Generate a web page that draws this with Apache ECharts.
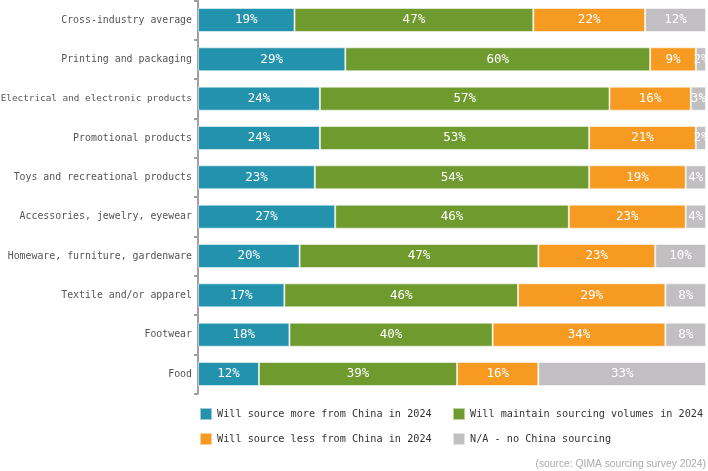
<!DOCTYPE html>
<html>
<head>
<meta charset="utf-8">
<script src="https://cdn.jsdelivr.net/npm/echarts@6/dist/echarts.min.js"></script>
<style>
  html, body { margin: 0; padding: 0; background: #fff; }
  #chart { width: 708px; height: 471px; }
</style>
</head>
<body>
<div id="chart"></div>
<script>
var categories = [
  'Cross-industry average',
  'Printing and packaging',
  'Electrical and electronic products',
  'Promotional products',
  'Toys and recreational products',
  'Accessories, jewelry, eyewear',
  'Homeware, furniture, gardenware',
  'Textile and/or apparel',
  'Footwear',
  'Food'
];
var seriesNames = [
  'Will source more from China in 2024',
  'Will maintain sourcing volumes in 2024',
  'Will source less from China in 2024',
  'N/A - no China sourcing'
];
var moreValues     = [19, 29, 24, 24, 23, 27, 20, 17, 18, 12];
var maintainValues = [47, 60, 57, 53, 54, 46, 47, 46, 40, 39];
var lessValues     = [22,  9, 16, 21, 19, 23, 23, 29, 34, 16];
var naValues       = [12,  2,  3,  2,  4,  4, 10,  8,  8, 33];

var colors = ['#2392ad', '#6e9a2e', '#f79a21', '#c1bfc1'];
var mono = 'DejaVu Sans Mono';

var chart = echarts.init(document.getElementById('chart'));

function makeSeries(idx, values) {
  return {
    name: seriesNames[idx],
    type: 'bar',
    stack: 'total',
    barWidth: 24,
    data: values,
    itemStyle: {
      color: colors[idx],
      borderColor: 'rgba(255,255,255,0.55)',
      borderWidth: 1
    },
    label: {
      show: true,
      position: 'inside',
      color: '#fff',
      fontFamily: mono,
      fontSize: 12.5,
      formatter: '{c}%'
    },
    emphasis: { disabled: true }
  };
}

function legendAt(x, names) {
  return {
    left: x, top: 407, orient: 'vertical', padding: 0,
    data: names,
    icon: 'rect', itemWidth: 12, itemHeight: 12, itemGap: 11,
    textStyle: { color: '#333', fontFamily: mono, fontSize: 10.2 },
    selectedMode: false
  };
}

// long labels are squeezed to fit left of the axis
var yData = categories.map(function (c) {
  return c.length > 32 ? { value: c, textStyle: { fontSize: 9.35 } } : c;
});

var option = {
  animation: false,
  color: colors,
  grid: { left: 198, right: 2, top: 0.3, bottom: 77.3, outerBoundsMode: 'none' },
  xAxis: { type: 'value', min: 0, max: 100, show: false },
  yAxis: {
    type: 'category',
    inverse: true,
    data: yData,
    axisLine: { show: true, lineStyle: { color: '#a0a0a0', width: 2 } },
    axisTick: { show: true, length: 4, lineStyle: { color: '#a0a0a0', width: 2 } },
    axisLabel: { color: '#555', fontFamily: mono, fontSize: 9.9, margin: 6 }
  },
  legend: [
    legendAt(199, [seriesNames[0], seriesNames[2]]),
    legendAt(452, [seriesNames[1], seriesNames[3]])
  ],
  graphic: [{
    type: 'text',
    right: 2,
    top: 459,
    style: {
      text: '(source: QIMA sourcing survey 2024)',
      fill: '#aaa',
      font: '10.3px "Liberation Sans", sans-serif'
    }
  }],
  series: [
    makeSeries(0, moreValues),
    makeSeries(1, maintainValues),
    makeSeries(2, lessValues),
    makeSeries(3, naValues)
  ]
};
chart.setOption(option);
</script>
</body>
</html>
